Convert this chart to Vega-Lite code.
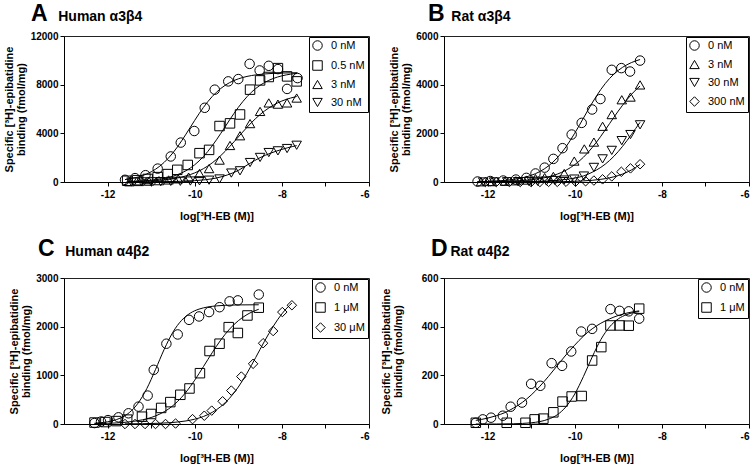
{
  "$schema": "https://vega.github.io/schema/vega-lite/v6.json",
  "background": "white",
  "padding": {"left": 2, "top": 2, "right": 0, "bottom": 0},
  "columns": 2,
  "spacing": {"row": 15, "column": 9},
  "datasets": {
    "pts": [
      {"p":"A","c":"0 nM","x":-11.6,"y":180},{"p":"A","c":"0 nM","x":-11.37,"y":320},{"p":"A","c":"0 nM","x":-11.13,"y":560},{"p":"A","c":"0 nM","x":-10.85,"y":1100},{"p":"A","c":"0 nM","x":-10.55,"y":2100},{"p":"A","c":"0 nM","x":-10.32,"y":3240},{"p":"A","c":"0 nM","x":-10.01,"y":4190},{"p":"A","c":"0 nM","x":-9.77,"y":6100},{"p":"A","c":"0 nM","x":-9.54,"y":7590},{"p":"A","c":"0 nM","x":-9.23,"y":8270},{"p":"A","c":"0 nM","x":-9.0,"y":8460},{"p":"A","c":"0 nM","x":-8.74,"y":9710},{"p":"A","c":"0 nM","x":-8.51,"y":9170},{"p":"A","c":"0 nM","x":-8.3,"y":9550},{"p":"A","c":"0 nM","x":-8.09,"y":9280},{"p":"A","c":"0 nM","x":-7.88,"y":7650},{"p":"A","c":"0 nM","x":-7.64,"y":8540},
      {"p":"A","c":"0.5 nM","x":-11.55,"y":100},{"p":"A","c":"0.5 nM","x":-11.32,"y":150},{"p":"A","c":"0.5 nM","x":-11.08,"y":250},{"p":"A","c":"0.5 nM","x":-10.85,"y":400},{"p":"A","c":"0.5 nM","x":-10.62,"y":650},{"p":"A","c":"0.5 nM","x":-10.4,"y":1000},{"p":"A","c":"0.5 nM","x":-10.16,"y":1400},{"p":"A","c":"0.5 nM","x":-9.89,"y":2370},{"p":"A","c":"0.5 nM","x":-9.67,"y":2640},{"p":"A","c":"0.5 nM","x":-9.43,"y":4600},{"p":"A","c":"0.5 nM","x":-9.19,"y":4820},{"p":"A","c":"0.5 nM","x":-8.96,"y":5550},{"p":"A","c":"0.5 nM","x":-8.73,"y":7590},{"p":"A","c":"0.5 nM","x":-8.5,"y":8350},{"p":"A","c":"0.5 nM","x":-8.3,"y":8630},{"p":"A","c":"0.5 nM","x":-8.09,"y":9360},{"p":"A","c":"0.5 nM","x":-7.88,"y":8680},{"p":"A","c":"0.5 nM","x":-7.66,"y":8270},
      {"p":"A","c":"3 nM","x":-11.5,"y":20},{"p":"A","c":"3 nM","x":-11.28,"y":40},{"p":"A","c":"3 nM","x":-11.05,"y":70},{"p":"A","c":"3 nM","x":-10.82,"y":110},{"p":"A","c":"3 nM","x":-10.6,"y":170},{"p":"A","c":"3 nM","x":-10.38,"y":260},{"p":"A","c":"3 nM","x":-10.14,"y":400},{"p":"A","c":"3 nM","x":-9.89,"y":700},{"p":"A","c":"3 nM","x":-9.67,"y":1100},{"p":"A","c":"3 nM","x":-9.43,"y":1800},{"p":"A","c":"3 nM","x":-9.19,"y":3000},{"p":"A","c":"3 nM","x":-8.96,"y":3800},{"p":"A","c":"3 nM","x":-8.73,"y":4800},{"p":"A","c":"3 nM","x":-8.5,"y":5800},{"p":"A","c":"3 nM","x":-8.3,"y":6500},{"p":"A","c":"3 nM","x":-8.09,"y":6400},{"p":"A","c":"3 nM","x":-7.88,"y":6500},{"p":"A","c":"3 nM","x":-7.66,"y":6900},
      {"p":"A","c":"30 nM","x":-11.45,"y":0},{"p":"A","c":"30 nM","x":-11.22,"y":10},{"p":"A","c":"30 nM","x":-11.0,"y":20},{"p":"A","c":"30 nM","x":-10.78,"y":30},{"p":"A","c":"30 nM","x":-10.55,"y":50},{"p":"A","c":"30 nM","x":-10.33,"y":60},{"p":"A","c":"30 nM","x":-10.1,"y":80},{"p":"A","c":"30 nM","x":-9.89,"y":100},{"p":"A","c":"30 nM","x":-9.67,"y":150},{"p":"A","c":"30 nM","x":-9.43,"y":250},{"p":"A","c":"30 nM","x":-9.16,"y":735},{"p":"A","c":"30 nM","x":-8.96,"y":920},{"p":"A","c":"30 nM","x":-8.73,"y":1600},{"p":"A","c":"30 nM","x":-8.5,"y":2020},{"p":"A","c":"30 nM","x":-8.3,"y":2420},{"p":"A","c":"30 nM","x":-8.09,"y":2560},{"p":"A","c":"30 nM","x":-7.88,"y":2750},{"p":"A","c":"30 nM","x":-7.66,"y":3020},

      {"p":"B","c":"0 nM","x":-12.23,"y":20},{"p":"B","c":"0 nM","x":-11.94,"y":40},{"p":"B","c":"0 nM","x":-11.64,"y":60},{"p":"B","c":"0 nM","x":-11.35,"y":100},{"p":"B","c":"0 nM","x":-11.11,"y":170},{"p":"B","c":"0 nM","x":-10.9,"y":350},{"p":"B","c":"0 nM","x":-10.69,"y":590},{"p":"B","c":"0 nM","x":-10.49,"y":950},{"p":"B","c":"0 nM","x":-10.28,"y":1390},{"p":"B","c":"0 nM","x":-10.07,"y":1950},{"p":"B","c":"0 nM","x":-9.84,"y":2430},{"p":"B","c":"0 nM","x":-9.6,"y":2980},{"p":"B","c":"0 nM","x":-9.41,"y":3410},{"p":"B","c":"0 nM","x":-9.15,"y":4610},{"p":"B","c":"0 nM","x":-8.93,"y":4680},{"p":"B","c":"0 nM","x":-8.73,"y":4540},{"p":"B","c":"0 nM","x":-8.5,"y":4990},
      {"p":"B","c":"3 nM","x":-12.15,"y":10},{"p":"B","c":"3 nM","x":-11.9,"y":15},{"p":"B","c":"3 nM","x":-11.6,"y":30},{"p":"B","c":"3 nM","x":-11.35,"y":50},{"p":"B","c":"3 nM","x":-11.11,"y":80},{"p":"B","c":"3 nM","x":-10.9,"y":140},{"p":"B","c":"3 nM","x":-10.69,"y":180},{"p":"B","c":"3 nM","x":-10.49,"y":230},{"p":"B","c":"3 nM","x":-10.24,"y":350},{"p":"B","c":"3 nM","x":-10.01,"y":860},{"p":"B","c":"3 nM","x":-9.78,"y":1360},{"p":"B","c":"3 nM","x":-9.56,"y":1640},{"p":"B","c":"3 nM","x":-9.36,"y":2290},{"p":"B","c":"3 nM","x":-9.15,"y":2770},{"p":"B","c":"3 nM","x":-8.92,"y":3380},{"p":"B","c":"3 nM","x":-8.72,"y":3490},{"p":"B","c":"3 nM","x":-8.5,"y":3990},
      {"p":"B","c":"30 nM","x":-12.1,"y":0},{"p":"B","c":"30 nM","x":-11.85,"y":5},{"p":"B","c":"30 nM","x":-11.55,"y":10},{"p":"B","c":"30 nM","x":-11.3,"y":15},{"p":"B","c":"30 nM","x":-11.05,"y":20},{"p":"B","c":"30 nM","x":-10.85,"y":30},{"p":"B","c":"30 nM","x":-10.65,"y":40},{"p":"B","c":"30 nM","x":-10.45,"y":60},{"p":"B","c":"30 nM","x":-10.24,"y":80},{"p":"B","c":"30 nM","x":-10.01,"y":120},{"p":"B","c":"30 nM","x":-9.79,"y":245},{"p":"B","c":"30 nM","x":-9.56,"y":600},{"p":"B","c":"30 nM","x":-9.36,"y":950},{"p":"B","c":"30 nM","x":-9.15,"y":1300},{"p":"B","c":"30 nM","x":-8.92,"y":1700},{"p":"B","c":"30 nM","x":-8.72,"y":1950},{"p":"B","c":"30 nM","x":-8.5,"y":2350},
      {"p":"B","c":"300 nM","x":-12.05,"y":0},{"p":"B","c":"300 nM","x":-11.8,"y":0},{"p":"B","c":"300 nM","x":-11.5,"y":0},{"p":"B","c":"300 nM","x":-11.25,"y":0},{"p":"B","c":"300 nM","x":-11.0,"y":0},{"p":"B","c":"300 nM","x":-10.8,"y":0},{"p":"B","c":"300 nM","x":-10.6,"y":5},{"p":"B","c":"300 nM","x":-10.4,"y":5},{"p":"B","c":"300 nM","x":-10.2,"y":10},{"p":"B","c":"300 nM","x":-9.98,"y":15},{"p":"B","c":"300 nM","x":-9.75,"y":30},{"p":"B","c":"300 nM","x":-9.56,"y":60},{"p":"B","c":"300 nM","x":-9.36,"y":110},{"p":"B","c":"300 nM","x":-9.15,"y":230},{"p":"B","c":"300 nM","x":-8.93,"y":420},{"p":"B","c":"300 nM","x":-8.72,"y":560},{"p":"B","c":"300 nM","x":-8.5,"y":730},

      {"p":"C","c":"0 nM","x":-12.3,"y":20},{"p":"C","c":"0 nM","x":-12.15,"y":50},{"p":"C","c":"0 nM","x":-11.99,"y":80},{"p":"C","c":"0 nM","x":-11.75,"y":137},{"p":"C","c":"0 nM","x":-11.52,"y":220},{"p":"C","c":"0 nM","x":-11.29,"y":357},{"p":"C","c":"0 nM","x":-11.08,"y":584},{"p":"C","c":"0 nM","x":-10.94,"y":1113},{"p":"C","c":"0 nM","x":-10.65,"y":1650},{"p":"C","c":"0 nM","x":-10.39,"y":1840},{"p":"C","c":"0 nM","x":-10.13,"y":2140},{"p":"C","c":"0 nM","x":-9.9,"y":2210},{"p":"C","c":"0 nM","x":-9.67,"y":2300},{"p":"C","c":"0 nM","x":-9.43,"y":2400},{"p":"C","c":"0 nM","x":-9.2,"y":2520},{"p":"C","c":"0 nM","x":-9.01,"y":2540},{"p":"C","c":"0 nM","x":-8.53,"y":2660},
      {"p":"C","c":"1 μM","x":-12.3,"y":30},{"p":"C","c":"1 μM","x":-12.05,"y":40},{"p":"C","c":"1 μM","x":-11.8,"y":60},{"p":"C","c":"1 μM","x":-11.55,"y":90},{"p":"C","c":"1 μM","x":-11.21,"y":150},{"p":"C","c":"1 μM","x":-11.0,"y":206},{"p":"C","c":"1 μM","x":-10.77,"y":330},{"p":"C","c":"1 μM","x":-10.56,"y":450},{"p":"C","c":"1 μM","x":-10.33,"y":600},{"p":"C","c":"1 μM","x":-10.12,"y":730},{"p":"C","c":"1 μM","x":-9.88,"y":1044},{"p":"C","c":"1 μM","x":-9.66,"y":1500},{"p":"C","c":"1 μM","x":-9.43,"y":1650},{"p":"C","c":"1 μM","x":-9.22,"y":1990},{"p":"C","c":"1 μM","x":-9.01,"y":1870},{"p":"C","c":"1 μM","x":-8.79,"y":2230},{"p":"C","c":"1 μM","x":-8.53,"y":2390},
      {"p":"C","c":"30 μM","x":-11.6,"y":0},{"p":"C","c":"30 μM","x":-11.37,"y":0},{"p":"C","c":"30 μM","x":-11.14,"y":0},{"p":"C","c":"30 μM","x":-10.9,"y":0},{"p":"C","c":"30 μM","x":-10.67,"y":0},{"p":"C","c":"30 μM","x":-10.44,"y":10},{"p":"C","c":"30 μM","x":-10.05,"y":100},{"p":"C","c":"30 μM","x":-9.78,"y":170},{"p":"C","c":"30 μM","x":-9.61,"y":275},{"p":"C","c":"30 μM","x":-9.36,"y":467},{"p":"C","c":"30 μM","x":-9.16,"y":687},{"p":"C","c":"30 μM","x":-8.93,"y":975},{"p":"C","c":"30 μM","x":-8.66,"y":1237},{"p":"C","c":"30 μM","x":-8.43,"y":1660},{"p":"C","c":"30 μM","x":-8.2,"y":1910},{"p":"C","c":"30 μM","x":-7.99,"y":2300},{"p":"C","c":"30 μM","x":-7.77,"y":2440},

      {"p":"D","c":"0 nM","x":-12.27,"y":5},{"p":"D","c":"0 nM","x":-12.11,"y":19},{"p":"D","c":"0 nM","x":-11.92,"y":26},{"p":"D","c":"0 nM","x":-11.65,"y":34},{"p":"D","c":"0 nM","x":-11.47,"y":71},{"p":"D","c":"0 nM","x":-11.21,"y":88},{"p":"D","c":"0 nM","x":-11.0,"y":165},{"p":"D","c":"0 nM","x":-10.79,"y":157},{"p":"D","c":"0 nM","x":-10.53,"y":250},{"p":"D","c":"0 nM","x":-10.29,"y":239},{"p":"D","c":"0 nM","x":-10.08,"y":298},{"p":"D","c":"0 nM","x":-9.85,"y":380},{"p":"D","c":"0 nM","x":-9.6,"y":391},{"p":"D","c":"0 nM","x":-9.18,"y":472},{"p":"D","c":"0 nM","x":-8.97,"y":465},{"p":"D","c":"0 nM","x":-8.76,"y":463},{"p":"D","c":"0 nM","x":-8.52,"y":433},
      {"p":"D","c":"1 μM","x":-12.27,"y":5},{"p":"D","c":"1 μM","x":-11.56,"y":5},{"p":"D","c":"1 μM","x":-11.13,"y":5},{"p":"D","c":"1 μM","x":-10.92,"y":19},{"p":"D","c":"1 μM","x":-10.72,"y":22},{"p":"D","c":"1 μM","x":-10.49,"y":48},{"p":"D","c":"1 μM","x":-10.28,"y":92},{"p":"D","c":"1 μM","x":-10.07,"y":113},{"p":"D","c":"1 μM","x":-9.84,"y":115},{"p":"D","c":"1 μM","x":-9.6,"y":261},{"p":"D","c":"1 μM","x":-9.39,"y":316},{"p":"D","c":"1 μM","x":-9.18,"y":405},{"p":"D","c":"1 μM","x":-8.97,"y":405},{"p":"D","c":"1 μM","x":-8.76,"y":404},{"p":"D","c":"1 μM","x":-8.52,"y":474}
    ],
    "fit": [
      {"p":"A","c":"0 nM","x":-11.6,"y":197},{"p":"A","c":"0 nM","x":-11.4,"y":322},{"p":"A","c":"0 nM","x":-11.2,"y":523},{"p":"A","c":"0 nM","x":-11.0,"y":836},{"p":"A","c":"0 nM","x":-10.8,"y":1306},{"p":"A","c":"0 nM","x":-10.6,"y":1978},{"p":"A","c":"0 nM","x":-10.4,"y":2866},{"p":"A","c":"0 nM","x":-10.2,"y":3934},{"p":"A","c":"0 nM","x":-10.0,"y":5067},{"p":"A","c":"0 nM","x":-9.8,"y":6131},{"p":"A","c":"0 nM","x":-9.6,"y":7020},{"p":"A","c":"0 nM","x":-9.4,"y":7692},{"p":"A","c":"0 nM","x":-9.2,"y":8167},{"p":"A","c":"0 nM","x":-9.0,"y":8477},{"p":"A","c":"0 nM","x":-8.8,"y":8677},{"p":"A","c":"0 nM","x":-8.6,"y":8803},{"p":"A","c":"0 nM","x":-8.4,"y":8880},{"p":"A","c":"0 nM","x":-8.2,"y":8927},{"p":"A","c":"0 nM","x":-8.0,"y":8956},{"p":"A","c":"0 nM","x":-7.8,"y":8973},{"p":"A","c":"0 nM","x":-7.64,"y":8983},
      {"p":"A","c":"0.5 nM","x":-11.55,"y":39},{"p":"A","c":"0.5 nM","x":-11.4,"y":56},{"p":"A","c":"0.5 nM","x":-11.2,"y":91},{"p":"A","c":"0.5 nM","x":-11.0,"y":147},{"p":"A","c":"0.5 nM","x":-10.8,"y":236},{"p":"A","c":"0.5 nM","x":-10.6,"y":376},{"p":"A","c":"0.5 nM","x":-10.4,"y":595},{"p":"A","c":"0.5 nM","x":-10.2,"y":928},{"p":"A","c":"0.5 nM","x":-10.0,"y":1415},{"p":"A","c":"0.5 nM","x":-9.8,"y":2092},{"p":"A","c":"0.5 nM","x":-9.6,"y":2969},{"p":"A","c":"0.5 nM","x":-9.4,"y":4002},{"p":"A","c":"0.5 nM","x":-9.2,"y":5098},{"p":"A","c":"0.5 nM","x":-9.0,"y":6132},{"p":"A","c":"0.5 nM","x":-8.8,"y":7009},{"p":"A","c":"0.5 nM","x":-8.6,"y":7686},{"p":"A","c":"0.5 nM","x":-8.4,"y":8172},{"p":"A","c":"0.5 nM","x":-8.2,"y":8505},{"p":"A","c":"0.5 nM","x":-8.0,"y":8724},{"p":"A","c":"0.5 nM","x":-7.8,"y":8864},{"p":"A","c":"0.5 nM","x":-7.66,"y":8930},
      {"p":"A","c":"3 nM","x":-11.5,"y":30},{"p":"A","c":"3 nM","x":-11.4,"y":39},{"p":"A","c":"3 nM","x":-11.2,"y":60},{"p":"A","c":"3 nM","x":-11.0,"y":92},{"p":"A","c":"3 nM","x":-10.8,"y":141},{"p":"A","c":"3 nM","x":-10.6,"y":217},{"p":"A","c":"3 nM","x":-10.4,"y":330},{"p":"A","c":"3 nM","x":-10.2,"y":500},{"p":"A","c":"3 nM","x":-10.0,"y":747},{"p":"A","c":"3 nM","x":-9.8,"y":1096},{"p":"A","c":"3 nM","x":-9.6,"y":1568},{"p":"A","c":"3 nM","x":-9.4,"y":2176},{"p":"A","c":"3 nM","x":-9.2,"y":2902},{"p":"A","c":"3 nM","x":-9.0,"y":3700},{"p":"A","c":"3 nM","x":-8.8,"y":4496},{"p":"A","c":"3 nM","x":-8.6,"y":5222},{"p":"A","c":"3 nM","x":-8.4,"y":5831},{"p":"A","c":"3 nM","x":-8.2,"y":6303},{"p":"A","c":"3 nM","x":-8.0,"y":6655},{"p":"A","c":"3 nM","x":-7.8,"y":6900},{"p":"A","c":"3 nM","x":-7.66,"y":7026},
      {"p":"A","c":"30 nM","x":-11.45,"y":5},{"p":"A","c":"30 nM","x":-11.0,"y":15},{"p":"A","c":"30 nM","x":-10.5,"y":40},{"p":"A","c":"30 nM","x":-10.0,"y":110},{"p":"A","c":"30 nM","x":-9.75,"y":190},{"p":"A","c":"30 nM","x":-9.5,"y":330},{"p":"A","c":"30 nM","x":-9.25,"y":580},{"p":"A","c":"30 nM","x":-9.0,"y":950},{"p":"A","c":"30 nM","x":-8.75,"y":1500},{"p":"A","c":"30 nM","x":-8.5,"y":2000},{"p":"A","c":"30 nM","x":-8.25,"y":2380},{"p":"A","c":"30 nM","x":-8.0,"y":2680},{"p":"A","c":"30 nM","x":-7.75,"y":2920},{"p":"A","c":"30 nM","x":-7.66,"y":2990},

      {"p":"B","c":"0 nM","x":-12.24,"y":14},{"p":"B","c":"0 nM","x":-12.0,"y":26},{"p":"B","c":"0 nM","x":-11.8,"y":41},{"p":"B","c":"0 nM","x":-11.6,"y":67},{"p":"B","c":"0 nM","x":-11.4,"y":107},{"p":"B","c":"0 nM","x":-11.2,"y":172},{"p":"B","c":"0 nM","x":-11.0,"y":273},{"p":"B","c":"0 nM","x":-10.8,"y":430},{"p":"B","c":"0 nM","x":-10.6,"y":663},{"p":"B","c":"0 nM","x":-10.4,"y":996},{"p":"B","c":"0 nM","x":-10.2,"y":1446},{"p":"B","c":"0 nM","x":-10.0,"y":2004},{"p":"B","c":"0 nM","x":-9.8,"y":2625},{"p":"B","c":"0 nM","x":-9.6,"y":3247},{"p":"B","c":"0 nM","x":-9.4,"y":3804},{"p":"B","c":"0 nM","x":-9.2,"y":4254},{"p":"B","c":"0 nM","x":-9.0,"y":4587},{"p":"B","c":"0 nM","x":-8.8,"y":4820},{"p":"B","c":"0 nM","x":-8.6,"y":4976},{"p":"B","c":"0 nM","x":-8.5,"y":5033},
      {"p":"B","c":"3 nM","x":-12.15,"y":8},{"p":"B","c":"3 nM","x":-12.0,"y":10},{"p":"B","c":"3 nM","x":-11.8,"y":16},{"p":"B","c":"3 nM","x":-11.6,"y":25},{"p":"B","c":"3 nM","x":-11.4,"y":39},{"p":"B","c":"3 nM","x":-11.2,"y":60},{"p":"B","c":"3 nM","x":-11.0,"y":92},{"p":"B","c":"3 nM","x":-10.8,"y":141},{"p":"B","c":"3 nM","x":-10.6,"y":214},{"p":"B","c":"3 nM","x":-10.4,"y":324},{"p":"B","c":"3 nM","x":-10.2,"y":484},{"p":"B","c":"3 nM","x":-10.0,"y":711},{"p":"B","c":"3 nM","x":-9.8,"y":1017},{"p":"B","c":"3 nM","x":-9.6,"y":1412},{"p":"B","c":"3 nM","x":-9.4,"y":1882},{"p":"B","c":"3 nM","x":-9.2,"y":2400},{"p":"B","c":"3 nM","x":-9.0,"y":2916},{"p":"B","c":"3 nM","x":-8.8,"y":3387},{"p":"B","c":"3 nM","x":-8.6,"y":3782},{"p":"B","c":"3 nM","x":-8.5,"y":3947},
      {"p":"B","c":"30 nM","x":-12.1,"y":1},{"p":"B","c":"30 nM","x":-11.6,"y":4},{"p":"B","c":"30 nM","x":-11.2,"y":11},{"p":"B","c":"30 nM","x":-10.8,"y":27},{"p":"B","c":"30 nM","x":-10.4,"y":68},{"p":"B","c":"30 nM","x":-10.2,"y":105},{"p":"B","c":"30 nM","x":-10.0,"y":162},{"p":"B","c":"30 nM","x":-9.8,"y":247},{"p":"B","c":"30 nM","x":-9.6,"y":400},{"p":"B","c":"30 nM","x":-9.4,"y":602},{"p":"B","c":"30 nM","x":-9.2,"y":884},{"p":"B","c":"30 nM","x":-9.0,"y":1253},{"p":"B","c":"30 nM","x":-8.8,"y":1702},{"p":"B","c":"30 nM","x":-8.6,"y":2200},{"p":"B","c":"30 nM","x":-8.5,"y":2453},
      {"p":"B","c":"300 nM","x":-12.05,"y":0},{"p":"B","c":"300 nM","x":-11.0,"y":3},{"p":"B","c":"300 nM","x":-10.5,"y":9},{"p":"B","c":"300 nM","x":-10.0,"y":28},{"p":"B","c":"300 nM","x":-9.8,"y":45},{"p":"B","c":"300 nM","x":-9.6,"y":70},{"p":"B","c":"300 nM","x":-9.4,"y":110},{"p":"B","c":"300 nM","x":-9.2,"y":172},{"p":"B","c":"300 nM","x":-9.0,"y":265},{"p":"B","c":"300 nM","x":-8.8,"y":403},{"p":"B","c":"300 nM","x":-8.6,"y":599},{"p":"B","c":"300 nM","x":-8.5,"y":723},

      {"p":"C","c":"0 nM","x":-12.3,"y":16},{"p":"C","c":"0 nM","x":-12.1,"y":32},{"p":"C","c":"0 nM","x":-11.9,"y":63},{"p":"C","c":"0 nM","x":-11.7,"y":124},{"p":"C","c":"0 nM","x":-11.5,"y":235},{"p":"C","c":"0 nM","x":-11.3,"y":428},{"p":"C","c":"0 nM","x":-11.1,"y":727},{"p":"C","c":"0 nM","x":-10.9,"y":1119},{"p":"C","c":"0 nM","x":-10.7,"y":1535},{"p":"C","c":"0 nM","x":-10.5,"y":1887},{"p":"C","c":"0 nM","x":-10.3,"y":2131},{"p":"C","c":"0 nM","x":-10.1,"y":2279},{"p":"C","c":"0 nM","x":-9.9,"y":2361},{"p":"C","c":"0 nM","x":-9.7,"y":2405},{"p":"C","c":"0 nM","x":-9.5,"y":2427},{"p":"C","c":"0 nM","x":-9.3,"y":2439},{"p":"C","c":"0 nM","x":-9.0,"y":2447},{"p":"C","c":"0 nM","x":-8.53,"y":2450},
      {"p":"C","c":"1 μM","x":-12.3,"y":7},{"p":"C","c":"1 μM","x":-12.0,"y":14},{"p":"C","c":"1 μM","x":-11.6,"y":35},{"p":"C","c":"1 μM","x":-11.2,"y":86},{"p":"C","c":"1 μM","x":-11.0,"y":133},{"p":"C","c":"1 μM","x":-10.8,"y":205},{"p":"C","c":"1 μM","x":-10.6,"y":309},{"p":"C","c":"1 μM","x":-10.4,"y":457},{"p":"C","c":"1 μM","x":-10.2,"y":654},{"p":"C","c":"1 μM","x":-10.0,"y":900},{"p":"C","c":"1 μM","x":-9.8,"y":1179},{"p":"C","c":"1 μM","x":-9.6,"y":1464},{"p":"C","c":"1 μM","x":-9.4,"y":1728},{"p":"C","c":"1 μM","x":-9.2,"y":1950},{"p":"C","c":"1 μM","x":-9.0,"y":2122},{"p":"C","c":"1 μM","x":-8.8,"y":2248},{"p":"C","c":"1 μM","x":-8.53,"y":2358},
      {"p":"C","c":"30 μM","x":-11.6,"y":3},{"p":"C","c":"30 μM","x":-11.2,"y":6},{"p":"C","c":"30 μM","x":-10.8,"y":16},{"p":"C","c":"30 μM","x":-10.4,"y":40},{"p":"C","c":"30 μM","x":-10.2,"y":63},{"p":"C","c":"30 μM","x":-10.0,"y":99},{"p":"C","c":"30 μM","x":-9.8,"y":154},{"p":"C","c":"30 μM","x":-9.6,"y":238},{"p":"C","c":"30 μM","x":-9.4,"y":359},{"p":"C","c":"30 μM","x":-9.2,"y":530},{"p":"C","c":"30 μM","x":-9.0,"y":759},{"p":"C","c":"30 μM","x":-8.8,"y":1044},{"p":"C","c":"30 μM","x":-8.6,"y":1367},{"p":"C","c":"30 μM","x":-8.4,"y":1698},{"p":"C","c":"30 μM","x":-8.2,"y":2004},{"p":"C","c":"30 μM","x":-8.0,"y":2262},{"p":"C","c":"30 μM","x":-7.77,"y":2487},

      {"p":"D","c":"0 nM","x":-12.27,"y":15},{"p":"D","c":"0 nM","x":-12.0,"y":24},{"p":"D","c":"0 nM","x":-11.8,"y":34},{"p":"D","c":"0 nM","x":-11.6,"y":47},{"p":"D","c":"0 nM","x":-11.4,"y":66},{"p":"D","c":"0 nM","x":-11.2,"y":89},{"p":"D","c":"0 nM","x":-11.0,"y":119},{"p":"D","c":"0 nM","x":-10.8,"y":155},{"p":"D","c":"0 nM","x":-10.6,"y":196},{"p":"D","c":"0 nM","x":-10.4,"y":240},{"p":"D","c":"0 nM","x":-10.2,"y":284},{"p":"D","c":"0 nM","x":-10.0,"y":324},{"p":"D","c":"0 nM","x":-9.8,"y":361},{"p":"D","c":"0 nM","x":-9.6,"y":391},{"p":"D","c":"0 nM","x":-9.4,"y":414},{"p":"D","c":"0 nM","x":-9.2,"y":432},{"p":"D","c":"0 nM","x":-9.0,"y":446},{"p":"D","c":"0 nM","x":-8.8,"y":456},{"p":"D","c":"0 nM","x":-8.52,"y":465},
      {"p":"D","c":"1 μM","x":-12.27,"y":0},{"p":"D","c":"1 μM","x":-11.8,"y":0},{"p":"D","c":"1 μM","x":-11.4,"y":1},{"p":"D","c":"1 μM","x":-11.0,"y":5},{"p":"D","c":"1 μM","x":-10.8,"y":10},{"p":"D","c":"1 μM","x":-10.6,"y":20},{"p":"D","c":"1 μM","x":-10.4,"y":38},{"p":"D","c":"1 μM","x":-10.2,"y":71},{"p":"D","c":"1 μM","x":-10.0,"y":123},{"p":"D","c":"1 μM","x":-9.8,"y":195},{"p":"D","c":"1 μM","x":-9.6,"y":275},{"p":"D","c":"1 μM","x":-9.4,"y":347},{"p":"D","c":"1 μM","x":-9.2,"y":399},{"p":"D","c":"1 μM","x":-9.0,"y":432},{"p":"D","c":"1 μM","x":-8.8,"y":450},{"p":"D","c":"1 μM","x":-8.52,"y":462}
    ]
  },
  "concat": [
    {
      "width": 305, "height": 146,
      "title": {"text": "A", "subtitle": "\u200b\u00a0\u00a0\u00a0\u00a0\u00a0\u00a0\u00a0Human α3β4", "dx": -33, "offset": 5},
      "encoding": {
        "x": {"field": "x", "type": "quantitative", "scale": {"domain": [-13, -6], "nice": false, "zero": false}, "axis": {"title": "log[³H-EB (M)]", "values": [-12, -11, -10, -9, -8, -7, -6], "labelExpr": "datum.value % 2 === 0 ? toString(datum.value) : ''"}},
        "y": {"field": "y", "type": "quantitative", "scale": {"domain": [0, 12000], "nice": false}, "axis": {"title": ["Specific [³H]-epibatidine", "binding (fmol/mg)"], "values": [0, 4000, 8000, 12000], "format": "d"}}
      },
      "layer": [
        {"data": {"name": "fit"}, "transform": [{"filter": "datum.p === 'A'"}], "mark": {"type": "line", "color": "black", "strokeWidth": 1, "interpolate": "monotone"}, "encoding": {"detail": {"field": "c", "type": "nominal"}}},
        {"data": {"name": "pts"}, "transform": [{"filter": "datum.p === 'A'"}], "mark": {"type": "point", "filled": false, "color": "black", "size": 90, "strokeWidth": 1, "opacity": 1}, "encoding": {"shape": {"field": "c", "type": "nominal", "scale": {"domain": ["0 nM", "0.5 nM", "3 nM", "30 nM"], "range": ["circle", "square", "triangle-up", "triangle-down"]}, "legend": {"title": null}}}}
      ]
    },
    {
      "width": 305, "height": 146,
      "title": {"text": "B", "subtitle": "\u200b\u00a0\u00a0\u00a0\u00a0\u00a0\u00a0Rat α3β4", "dx": -16, "offset": 5},
      "encoding": {
        "x": {"field": "x", "type": "quantitative", "scale": {"domain": [-13, -6], "nice": false, "zero": false}, "axis": {"title": "log[³H-EB (M)]", "values": [-12, -11, -10, -9, -8, -7, -6], "labelExpr": "datum.value % 2 === 0 ? toString(datum.value) : ''"}},
        "y": {"field": "y", "type": "quantitative", "scale": {"domain": [0, 6000], "nice": false}, "axis": {"title": ["Specific [³H]-epibatidine", "binding (fmol/mg)"], "values": [0, 2000, 4000, 6000], "format": "d"}}
      },
      "layer": [
        {"data": {"name": "fit"}, "transform": [{"filter": "datum.p === 'B'"}], "mark": {"type": "line", "color": "black", "strokeWidth": 1, "interpolate": "monotone"}, "encoding": {"detail": {"field": "c", "type": "nominal"}}},
        {"data": {"name": "pts"}, "transform": [{"filter": "datum.p === 'B'"}], "mark": {"type": "point", "filled": false, "color": "black", "size": 90, "strokeWidth": 1, "opacity": 1}, "encoding": {"shape": {"field": "c", "type": "nominal", "scale": {"domain": ["0 nM", "3 nM", "30 nM", "300 nM"], "range": ["circle", "triangle-up", "triangle-down", "diamond"]}, "legend": {"title": null}}}}
      ]
    },
    {
      "width": 305, "height": 146,
      "title": {"text": "C", "subtitle": "\u200b\u00a0\u00a0\u00a0\u00a0\u00a0\u00a0\u00a0Human α4β2", "dx": -26, "offset": 12},
      "encoding": {
        "x": {"field": "x", "type": "quantitative", "scale": {"domain": [-13, -6], "nice": false, "zero": false}, "axis": {"title": "log[³H-EB (M)]", "values": [-12, -11, -10, -9, -8, -7, -6], "labelExpr": "datum.value % 2 === 0 ? toString(datum.value) : ''"}},
        "y": {"field": "y", "type": "quantitative", "scale": {"domain": [0, 3000], "nice": false}, "axis": {"title": ["Specific [³H]-epibatidine", "binding (fmol/mg)"], "values": [0, 1000, 2000, 3000], "format": "d"}}
      },
      "layer": [
        {"data": {"name": "fit"}, "transform": [{"filter": "datum.p === 'C'"}], "mark": {"type": "line", "color": "black", "strokeWidth": 1, "interpolate": "monotone"}, "encoding": {"detail": {"field": "c", "type": "nominal"}}},
        {"data": {"name": "pts"}, "transform": [{"filter": "datum.p === 'C'"}], "mark": {"type": "point", "filled": false, "color": "black", "size": 90, "strokeWidth": 1, "opacity": 1}, "encoding": {"shape": {"field": "c", "type": "nominal", "scale": {"domain": ["0 nM", "1 μM", "30 μM"], "range": ["circle", "square", "diamond"]}, "legend": {"title": null}}}}
      ]
    },
    {
      "width": 305, "height": 146,
      "title": {"text": "D", "subtitle": "\u200b\u00a0\u00a0\u00a0\u00a0\u00a0Rat α4β2", "dx": -13, "offset": 12},
      "encoding": {
        "x": {"field": "x", "type": "quantitative", "scale": {"domain": [-13, -6], "nice": false, "zero": false}, "axis": {"title": "log[³H-EB (M)]", "values": [-12, -11, -10, -9, -8, -7, -6], "labelExpr": "datum.value % 2 === 0 ? toString(datum.value) : ''"}},
        "y": {"field": "y", "type": "quantitative", "scale": {"domain": [0, 600], "nice": false}, "axis": {"title": ["Specific [³H]-epibatidine", "binding (fmol/mg)"], "values": [0, 200, 400, 600], "format": "d", "minExtent": 37}}
      },
      "layer": [
        {"data": {"name": "fit"}, "transform": [{"filter": "datum.p === 'D'"}], "mark": {"type": "line", "color": "black", "strokeWidth": 1, "interpolate": "monotone"}, "encoding": {"detail": {"field": "c", "type": "nominal"}}},
        {"data": {"name": "pts"}, "transform": [{"filter": "datum.p === 'D'"}], "mark": {"type": "point", "filled": false, "color": "black", "size": 90, "strokeWidth": 1, "opacity": 1}, "encoding": {"shape": {"field": "c", "type": "nominal", "scale": {"domain": ["0 nM", "1 μM"], "range": ["circle", "square"]}, "legend": {"title": null}}}}
      ]
    }
  ],
  "resolve": {"scale": {"shape": "independent"}, "legend": {"shape": "independent"}},
  "config": {
    "view": {"stroke": "#222", "strokeWidth": 1},
    "font": "Liberation Sans",
    "title": {"font": "Liberation Sans", "fontSize": 23, "fontWeight": "bold", "anchor": "start", "frame": "group", "color": "black", "subtitleFont": "Liberation Sans", "subtitleFontSize": 14, "subtitleFontWeight": "bold", "subtitleColor": "black", "subtitlePadding": -16},
    "axis": {"grid": false, "labelFont": "Liberation Sans", "labelFontSize": 10, "labelFontWeight": "bold", "labelColor": "black", "titleFont": "Liberation Sans", "titleFontSize": 11, "titleFontWeight": "bold", "titleColor": "black", "domainColor": "black", "tickColor": "black", "tickSize": 4, "labelPadding": 2, "titlePadding": 5, "titleLineHeight": 12},
    "axisX": {"labelPadding": 3, "titlePadding": 11},
    "axisY": {"titlePadding": 4, "labelPadding": 2},
    "legend": {"orient": "top-right", "offset": 1, "strokeColor": "black", "fillColor": "white", "padding": 3, "labelFont": "Liberation Sans", "labelFontSize": 11, "labelColor": "black", "symbolSize": 90, "symbolStrokeWidth": 1, "symbolStrokeColor": "black", "symbolFillColor": "transparent", "rowPadding": 5, "labelOffset": 8, "cornerRadius": 0}
  }
}
